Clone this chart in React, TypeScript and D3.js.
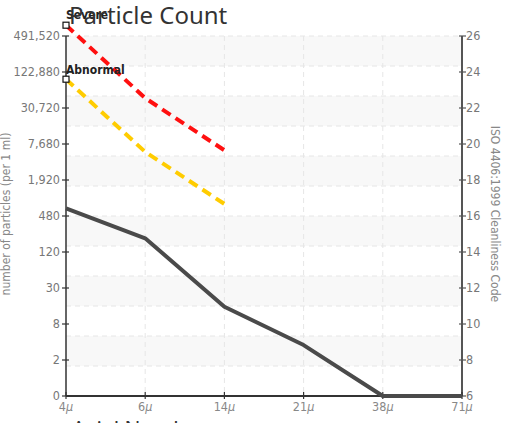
import React from "react";
import * as d3 from "d3";

const categories = ["4", "6", "14", "21", "38", "71"];
const isoTicks = [6, 8, 10, 12, 14, 16, 18, 20, 22, 24, 26];
const countLabels = ["0", "2", "8", "30", "120", "480", "1,920", "7,680", "30,720", "122,880", "491,520"];
const sampleCode = [16.43, 14.76, 10.96, 8.83, 6, 6];
const severeCode = [26.6, 22.55, 19.65];
const abnormalCode = [23.6, 19.56, 16.67];
const gridBands = d3.range(6, 26, 10 / 6);

const W = 508;
const H = 423;
const left = 66;
const right = 462;
const top = 36;
const bottom = 396;

const narrow = "'Liberation Sans Narrow', 'DejaVu Sans Condensed', 'Roboto', sans-serif";

export default function App() {
  const x = d3.scalePoint<string>().domain(categories).range([left, right]);
  const y = d3.scaleLinear().domain([6, 26]).range([bottom, top]);
  const line = d3
    .line<number>()
    .x((_, i) => x(categories[i]) as number)
    .y((d) => y(d));

  return (
    <svg
      width={W}
      height={H}
      style={{ position: "absolute", left: 0, top: 0, display: "block" }}
    >
      <rect x={0} y={0} width={W} height={H} fill="#fff" />
      {gridBands.map((b, i) =>
        i % 2 === 1 ? (
          <rect
            key={"band" + i}
            x={left}
            width={right - left}
            y={y(b + 10 / 6)}
            height={y(b) - y(b + 10 / 6)}
            fill="#f8f8f8"
          />
        ) : null
      )}
      {gridBands.map((b, i) =>
        i > 0 ? (
          <line
            key={"hg" + i}
            x1={left}
            x2={right}
            y1={y(b)}
            y2={y(b)}
            stroke="#e6e6e6"
            strokeDasharray="5,4"
          />
        ) : null
      )}
      <line x1={left} x2={right} y1={top} y2={top} stroke="#e6e6e6" strokeDasharray="5,4" />
      {categories.slice(1, -1).map((c) => (
        <line
          key={"vg" + c}
          x1={x(c)}
          x2={x(c)}
          y1={top}
          y2={bottom}
          stroke="#e6e6e6"
          strokeDasharray="5,4"
        />
      ))}

      {/* axes */}
      <line x1={left} x2={left} y1={top} y2={bottom} stroke="#333" strokeWidth={1.5} />
      <line x1={right} x2={right} y1={top} y2={bottom} stroke="#555" strokeWidth={2} />
      <line x1={left} x2={right} y1={bottom} y2={bottom} stroke="#333" strokeWidth={2} />

      {isoTicks.map((t, i) => (
        <g key={"lt" + t}>
          <line x1={left - 4} x2={left + 3} y1={y(t)} y2={y(t)} stroke="#333" strokeWidth={1.2} />
          <text
            x={left - 6}
            y={y(t)}
            dy="0.35em"
            textAnchor="end"
            fontFamily={narrow}
            fontSize={12.5}
            fill="#777"
          >
            {countLabels[i]}
          </text>
          <line x1={right - 3} x2={right + 4} y1={y(t)} y2={y(t)} stroke="#555" strokeWidth={1.2} />
          <text
            x={right + 4}
            y={y(t)}
            dy="0.35em"
            textAnchor="start"
            fontFamily={narrow}
            fontSize={12.5}
            fill="#777"
          >
            {t}
          </text>
        </g>
      ))}

      {categories.map((c) => (
        <g key={"xt" + c}>
          <line x1={x(c)} x2={x(c)} y1={bottom - 4} y2={bottom + 3} stroke="#333" strokeWidth={1.2} />
          <text
            x={x(c)}
            y={bottom + 15}
            textAnchor="middle"
            fontFamily={narrow}
            fontSize={12.5}
            fill="#888"
          >
            {c}
            <tspan fontStyle="italic">μ</tspan>
          </text>
        </g>
      ))}

      {/* data lines */}
      <path d={line(sampleCode) || ""} fill="none" stroke="#4a4a4a" strokeWidth={4} strokeLinejoin="round" />
      <path
        d={line(severeCode) || ""}
        fill="none"
        stroke="#ff1010"
        strokeWidth={4}
        strokeDasharray="10,6"
      />
      <path
        d={line(abnormalCode) || ""}
        fill="none"
        stroke="#ffcc00"
        strokeWidth={4}
        strokeDasharray="10,6"
      />

      {/* markers & labels */}
      <rect x={left - 3} y={y(severeCode[0]) - 3} width={6} height={6} fill="#fff" stroke="#111" strokeWidth={1.2} />
      <rect x={left - 3} y={y(abnormalCode[0]) - 3} width={6} height={6} fill="#fff" stroke="#111" strokeWidth={1.2} />
      <text
        x={left}
        y={y(severeCode[0]) - 6}
        fontFamily={narrow}
        fontSize={12}
        fontWeight="bold"
        fill="#222"
      >
        Severe
      </text>
      <text
        x={left}
        y={y(abnormalCode[0]) - 5}
        fontFamily={narrow}
        fontSize={12}
        fontWeight="bold"
        fill="#222"
      >
        Abnormal
      </text>

      {/* titles */}
      <text x={69} y={24} fontFamily="'Noto Sans', 'Open Sans', sans-serif" fontSize={24} fill="#333">
        Particle Count
      </text>
      <text
        x={72}
        y={437}
        fontFamily="'Noto Sans', 'Open Sans', sans-serif"
        fontSize={21}
        fill="#333"
      >
        Axial Number
      </text>
      <text
        transform={`translate(10, ${(top + bottom) / 2 - 2}) rotate(-90)`}
        textAnchor="middle"
        fontFamily={narrow}
        fontSize={12}
        fill="#888"
      >
        number of particles (per 1 ml)
      </text>
      <text
        transform={`translate(491, ${(top + bottom) / 2 - 2}) rotate(90)`}
        textAnchor="middle"
        fontFamily={narrow}
        fontSize={12}
        fill="#888"
      >
        ISO 4406:1999 Cleanliness Code
      </text>
    </svg>
  );
}
